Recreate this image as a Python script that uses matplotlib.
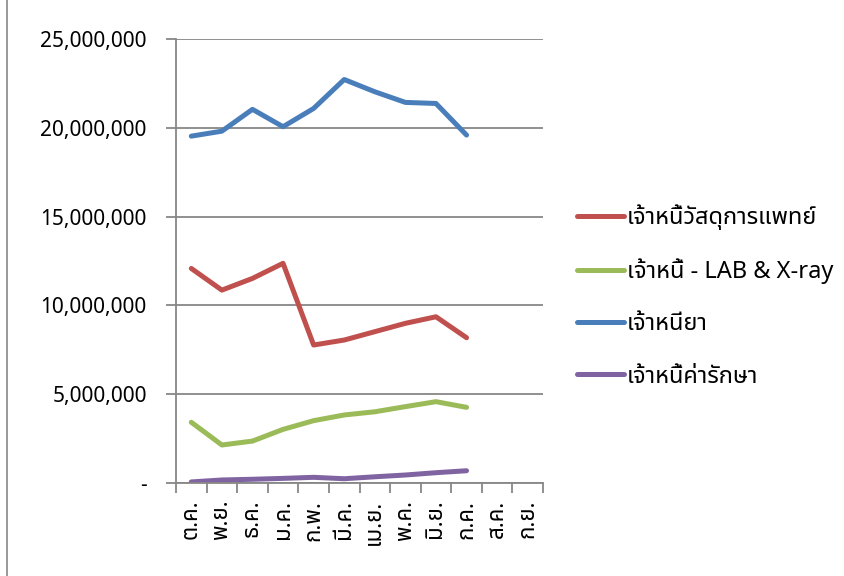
import numpy as np
import matplotlib
matplotlib.use("Agg")
import matplotlib.pyplot as plt
from matplotlib import font_manager
from matplotlib.ticker import FuncFormatter
from matplotlib.ft2font import FT2Font

months = ["ต.ค.", "พ.ย.", "ธ.ค.", "ม.ค.", "ก.พ.", "มี.ค.", "เม.ย.", "พ.ค.", "มิ.ย.", "ก.ค.", "ส.ค.", "ก.ย."]

# values (baht), 10 months so far
supplies = [12080000, 10860000, 11520000, 12370000, 7770000, 8050000, 8520000, 8990000, 9360000, 8180000]
lab_xray = [3420000, 2140000, 2360000, 3020000, 3510000, 3830000, 4010000, 4300000, 4580000, 4260000]
drugs = [19530000, 19810000, 21040000, 20060000, 21090000, 22720000, 22030000, 21430000, 21370000, 19590000]
treatment = [60000, 170000, 210000, 260000, 320000, 240000, 350000, 450000, 580000, 690000]

names = ["เจ้าหนี้วัสดุการแพทย์", "เจ้าหนี้ - LAB & X-ray", "เจ้าหนียา", "เจ้าหนี้ค่ารักษา"]
colors = ["#C0504D", "#9BBB59", "#4A7EBB", "#8064A2"]


# find an installed font that has Thai glyphs
def find_thai():
    prefer = ["Noto Sans Thai", "Noto Sans Thai UI", "Loma", "Garuda", "Tlwg Typo", "Waree", "Sarabun", "Kinnari"]
    found = {}
    for f in font_manager.fontManager.ttflist:
        try:
            ft = FT2Font(f.fname)
            if ft.get_char_index(ord("จ")) and ft.get_char_index(ord("้")):
                found.setdefault(f.name, f.fname)
        except Exception:
            pass
    for p in prefer:
        if p in found:
            return p
    if found:
        return sorted(found)[0]
    return "DejaVu Sans"


thai = find_thai()
plt.rcParams["font.family"] = [thai, "Open Sans", "DejaVu Sans"]

fig = plt.figure(figsize=(8.44, 5.76), dpi=100)
ax = fig.add_axes([176 / 844, 1 - 483 / 576, (543 - 176) / 844, (483 - 39) / 576])

x = np.arange(len(months))
for vals, name, c in zip([supplies, lab_xray, drugs, treatment], names, colors):
    ax.plot(x[:len(vals)], vals, color=c, lw=3.6, label=name, solid_capstyle="round", solid_joinstyle="round")

ax.set_xlim(-0.5, len(months) - 0.5)
ax.set_ylim(0, 25000000)
ax.set_yticks(np.arange(0, 25000001, 5000000))
ax.yaxis.set_major_formatter(FuncFormatter(lambda v, p: "-" if v == 0 else f"{int(v):,}"))
ax.set_xticks(x)
ax.set_xticklabels(months, rotation=90, fontsize=16, fontweight="bold")
ax.set_xticks(np.arange(-0.5, len(months)), minor=True)
ax.tick_params(axis="x", which="major", length=0, pad=12)
ax.tick_params(axis="x", which="minor", length=7, width=1.3, color="#878787")
ax.tick_params(axis="y", length=7, width=1.3, color="#878787", labelsize=15, pad=14)

ax.grid(axis="y", color="#878787", lw=1.3)
ax.set_axisbelow(True)
for s in ["top", "right"]:
    ax.spines[s].set_visible(False)
for s in ["left", "bottom"]:
    ax.spines[s].set_color("#878787")
    ax.spines[s].set_linewidth(1.3)

leg = ax.legend(loc="center left", bbox_to_anchor=(1.035, 0.42), frameon=False, fontsize=17,
                handlelength=2.0, handletextpad=0.1, labelspacing=1.2)

# chart border (left edge only shows in the crop)
fig.add_artist(plt.Line2D([6.5 / 844, 6.5 / 844], [0, 1], transform=fig.transFigure, color="#878787", lw=1.2))

fig.savefig("out.png", dpi=100)
